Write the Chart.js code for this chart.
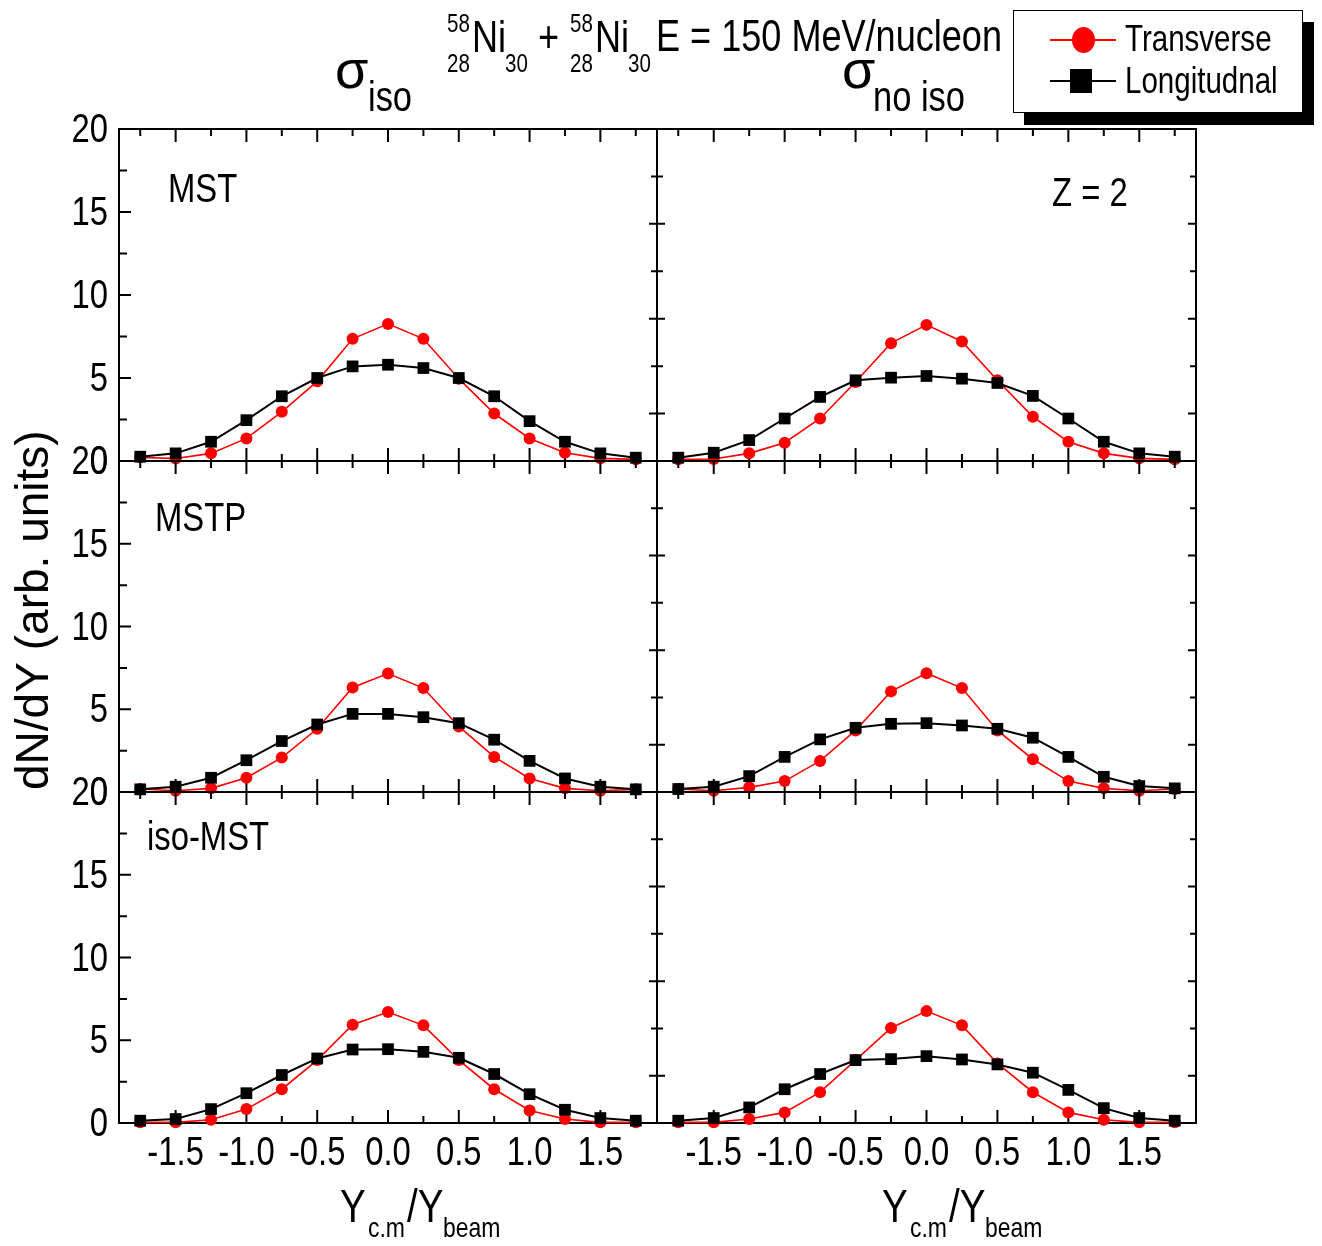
<!DOCTYPE html>
<html>
<head>
<meta charset="utf-8">
<script src="https://cdn.jsdelivr.net/npm/chart.js@4.4.1/dist/chart.umd.min.js"></script>
<style>
  html, body { margin: 0; padding: 0; background: #fff; }
  #wrap { position: relative; width: 1322px; height: 1246px; overflow: hidden; color: #000; }
  #wrap canvas { position: absolute; left: 0; top: 0; pointer-events: none; }
  .t { position: absolute; white-space: nowrap; line-height: 1; transform-origin: 0 0; }
  #legend { position: absolute; left: 1013px; top: 10px; width: 288px; height: 101px;
            border: 1px solid #000; background: #fff; box-shadow: 11px 12px 0 #000; }
  .lg-line { position: absolute; height: 2px; }
  .lg-mark { position: absolute; }
</style>
</head>
<body>
<div id="wrap">
  <canvas id="p0" width="1322" height="1246"></canvas>
  <canvas id="p1" width="1322" height="1246"></canvas>
  <canvas id="p2" width="1322" height="1246"></canvas>
  <canvas id="p3" width="1322" height="1246"></canvas>
  <canvas id="p4" width="1322" height="1246"></canvas>
  <canvas id="p5" width="1322" height="1246"></canvas>
  <div id="legend"></div>
</div>
<script>
// Rapidity bins (Y_c.m / Y_beam)
const rapidity = [-1.75, -1.5, -1.25, -1.0, -0.75, -0.5, -0.25, 0, 0.25, 0.5, 0.75, 1.0, 1.25, 1.5, 1.75];

// Tick values
const xTicks = [-1.5, -1.0, -0.5, 0, 0.5, 1.0, 1.5];
const xMinorTicks = [-1.75, -1.25, -0.75, -0.25, 0.25, 0.75, 1.25, 1.75];
const yTicks = [0, 5, 10, 15, 20];
const yMinorTicks = [2.5, 7.5, 12.5, 17.5];
const sideMajorTicks = [2.857, 8.571, 14.286];
const sideMinorTicks = [5.714, 11.429, 17.143];

// dN/dY for Z = 2 fragments, sigma_iso column
const mstIsoTrans   = [0.22, 0.15, 0.46, 1.36, 2.96, 4.80, 7.36, 8.26, 7.36, 4.96, 2.86, 1.36, 0.50, 0.16, 0.10];
const mstIsoLong    = [0.26, 0.46, 1.16, 2.46, 3.90, 5.00, 5.70, 5.80, 5.60, 5.00, 3.90, 2.40, 1.16, 0.46, 0.20];
const mstpIsoTrans  = [0.18, 0.08, 0.22, 0.86, 2.08, 3.82, 6.32, 7.16, 6.28, 3.96, 2.12, 0.82, 0.22, 0.08, 0.16];
const mstpIsoLong   = [0.16, 0.32, 0.86, 1.92, 3.08, 4.08, 4.72, 4.72, 4.52, 4.16, 3.16, 1.88, 0.82, 0.32, 0.16];
const isoMstIsoTrans = [0.04, 0.04, 0.20, 0.84, 2.04, 3.80, 5.94, 6.70, 5.90, 3.80, 2.04, 0.76, 0.24, 0.04, 0.04];
const isoMstIsoLong  = [0.14, 0.24, 0.84, 1.80, 2.90, 3.90, 4.44, 4.46, 4.30, 3.94, 2.96, 1.74, 0.80, 0.30, 0.14];

// sigma_no iso column
const mstNoIsoTrans   = [0.10, 0.12, 0.46, 1.10, 2.56, 4.76, 7.10, 8.20, 7.20, 4.86, 2.66, 1.16, 0.46, 0.16, 0.10];
const mstNoIsoLong    = [0.20, 0.50, 1.26, 2.56, 3.86, 4.86, 5.02, 5.12, 4.96, 4.70, 3.92, 2.56, 1.16, 0.46, 0.26];
const mstpNoIsoTrans  = [0.18, 0.08, 0.28, 0.66, 1.88, 3.72, 6.08, 7.18, 6.28, 3.72, 1.98, 0.66, 0.22, 0.08, 0.18];
const mstpNoIsoLong   = [0.18, 0.32, 0.96, 2.12, 3.18, 3.88, 4.12, 4.16, 4.02, 3.82, 3.28, 2.12, 0.92, 0.36, 0.22];
const isoMstNoIsoTrans = [0.04, 0.04, 0.24, 0.64, 1.86, 3.80, 5.74, 6.76, 5.90, 3.60, 1.86, 0.64, 0.20, 0.04, 0.04];
const isoMstNoIsoLong  = [0.14, 0.30, 0.94, 2.04, 2.96, 3.80, 3.86, 4.04, 3.84, 3.54, 3.04, 2.00, 0.90, 0.30, 0.14];

const seriesNames = ['Transverse', 'Longitudnal'];
const panelLabels = ['MST', 'MSTP', 'iso-MST'];

// ---- layout ----
const W = 1322, H = 1246;
const COL_L = [119, 657], COL_R = [657, 1196];
const ROW_T = [129, 461, 792], ROW_B = [461, 792, 1123];
const Y_AXIS_W = 70, X_AXIS_H = 60;
const SANS = "'Liberation Sans', Arial, 'DejaVu Sans', sans-serif";
const NARROW_X = 0.82;   // horizontal squeeze giving an Arial-Narrow look

// Frame with inward ticks on all four sides, plus condensed tick labels
const frameTicks = {
  id: 'frameTicks',
  beforeDatasetsDraw(chart, args, opts) {
    const { ctx, chartArea: a, scales: { x, y } } = chart;
    ctx.save();
    ctx.strokeStyle = '#000';
    ctx.lineWidth = 2;
    ctx.beginPath();
    const seg = (x1, y1, x2, y2) => { ctx.moveTo(x1, y1); ctx.lineTo(x2, y2); };
    const xt = (vals, len) => vals.forEach(v => {
      const px = x.getPixelForValue(v);
      seg(px, a.bottom, px, a.bottom - len);
      seg(px, a.top, px, a.top + len);
    });
    const yl = (vals, len) => vals.forEach(v => {
      const py = y.getPixelForValue(v);
      seg(a.left, py, a.left + len, py);
    });
    const yr = (vals, len) => vals.forEach(v => {
      const py = y.getPixelForValue(v);
      seg(a.right, py, a.right - len, py);
    });
    xt(xTicks, 13);
    xt(xMinorTicks, 7);
    if (opts.col === 0) {
      yl(yTicks, 12);
      yl(yMinorTicks, 8);
    } else {
      yl(sideMajorTicks, 8);
      yl(sideMinorTicks, 6);
    }
    yr(sideMajorTicks, 8);
    yr(sideMinorTicks, 6);
    ctx.stroke();
    ctx.strokeRect(a.left, a.top, a.width, a.height);

    // tick labels taken from the scales' own tick lists
    ctx.fillStyle = '#000';
    ctx.font = "40px " + SANS;
    ctx.textBaseline = 'alphabetic';
    const put = (label, px, py, align) => {
      ctx.save();
      ctx.translate(px, py);
      ctx.scale(NARROW_X, 1);
      ctx.textAlign = align;
      ctx.fillText(label, 0, 0);
      ctx.restore();
    };
    if (opts.showY) {
      y.ticks.forEach(t => put(t.label != null ? String(t.label) : String(t.value),
                               a.left - 11, y.getPixelForValue(t.value) + 13, 'right'));
    }
    if (opts.showX) {
      x.ticks.forEach(t => put(t.label != null ? String(t.label) : t.value.toFixed(1),
                               x.getPixelForValue(t.value), a.bottom + 42, 'center'));
    }
    ctx.restore();
  }
};

function makePanel(id, col, row, trans, longi) {
  const showY = col === 0, showX = row === 2;
  const pts = arr => rapidity.map((v, i) => ({ x: v, y: arr[i] }));
  new Chart(document.getElementById(id), {
    type: 'line',
    data: {
      datasets: [
        { label: seriesNames[0], data: pts(trans), borderColor: '#ff0000', backgroundColor: '#ff0000',
          borderWidth: 1.6, pointStyle: 'circle', pointRadius: 6, pointBorderWidth: 0,
          order: 1, clip: false, tension: 0 },
        { label: seriesNames[1], data: pts(longi), borderColor: '#000', backgroundColor: '#000',
          borderWidth: 2, pointStyle: 'rect', pointRadius: 8.3, pointBorderWidth: 0,
          order: 0, clip: false, tension: 0 }
      ]
    },
    options: {
      responsive: false, animation: false, devicePixelRatio: 1,
      layout: { padding: {
        left: COL_L[col] - (showY ? Y_AXIS_W : 0),
        right: W - COL_R[col],
        top: ROW_T[row],
        bottom: H - ROW_B[row] - (showX ? X_AXIS_H : 0)
      } },
      plugins: { legend: { display: false }, tooltip: { enabled: false },
                 frameTicks: { col, showX, showY } },
      scales: {
        x: {
          type: 'linear', min: -1.9, max: 1.9,
          grid: { display: false }, border: { display: false },
          afterBuildTicks: s => { s.ticks = xTicks.map(v => ({ value: v })); },
          afterFit: s => { s.height = showX ? X_AXIS_H : 0; },
          ticks: { display: false, autoSkip: false, callback: v => v.toFixed(1) }
        },
        y: {
          type: 'linear', min: 0, max: 20,
          grid: { display: false }, border: { display: false },
          afterBuildTicks: s => { s.ticks = yTicks.map(v => ({ value: v })); },
          afterFit: s => { s.width = showY ? Y_AXIS_W : 0; },
          ticks: { display: false, autoSkip: false, callback: v => String(v) }
        }
      }
    },
    plugins: [frameTicks]
  });
}

makePanel('p0', 0, 0, mstIsoTrans, mstIsoLong);
makePanel('p1', 1, 0, mstNoIsoTrans, mstNoIsoLong);
makePanel('p2', 0, 1, mstpIsoTrans, mstpIsoLong);
makePanel('p3', 1, 1, mstpNoIsoTrans, mstpNoIsoLong);
makePanel('p4', 0, 2, isoMstIsoTrans, isoMstIsoLong);
makePanel('p5', 1, 2, isoMstNoIsoTrans, isoMstNoIsoLong);

// ---- text ----
const wrap = document.getElementById('wrap');
function txt(str, left, baseline, size, squeeze) {
  const sx = squeeze == null ? NARROW_X : squeeze;
  const el = document.createElement('div');
  el.className = 't';
  el.textContent = str;
  el.style.left = left + 'px';
  el.style.top = (baseline - 0.846 * size) + 'px';
  el.style.fontSize = size + 'px';
  el.style.fontFamily = SANS;
  if (sx !== 1) el.style.transform = `scaleX(${sx})`;
  wrap.appendChild(el);
  return el;
}

// reaction label
function nucleus(left) {
  txt('58', left, 32, 25);
  txt('28', left, 72, 25);
  txt('Ni', left + 25, 52, 44);
  txt('30', left + 58, 72, 25);
}
nucleus(447);
txt('+', 538, 52, 44);
nucleus(570);
txt('E = 150 MeV/nucleon', 656, 51, 44);

// column headings
txt('\u03C3', 335, 88, 54, 1);
txt('iso', 368, 112, 42);
txt('\u03C3', 842, 88, 54, 1);
txt('no iso', 873, 112, 42);

// panel labels
txt(panelLabels[0], 168, 202, 40);
txt(panelLabels[1], 155, 531, 40);
txt(panelLabels[2], 147, 850, 40);
txt('Z = 2', 1052, 206, 40);

// vertical axis title
const yt = txt('dN/dY (arb. units)', 0, 0, 46, 1);
yt.style.top = '0px';
yt.style.left = '0px';
(function () {
  const w = yt.offsetWidth, h = yt.offsetHeight;
  yt.style.transform = `translate(${32 - h / 2}px, ${610 + w / 2}px) rotate(-90deg)`;
})();

// horizontal axis titles
function xTitle(left) {
  txt('Y', left, 1222, 47);
  txt('c.m', left + 28, 1238, 28);
  txt('/Y', left + 67, 1222, 47);
  txt('beam', left + 103, 1238, 28);
}
xTitle(340);
xTitle(882);

// legend
const lg = document.getElementById('legend');
function lgEntry(y, color, shape) {
  const line = document.createElement('div');
  line.className = 'lg-line';
  Object.assign(line.style, { left: '36px', top: (y - 1) + 'px', width: '66px', background: color });
  lg.appendChild(line);
  const m = document.createElement('div');
  m.className = 'lg-mark';
  if (shape === 'circle') {
    Object.assign(m.style, { left: '58px', top: (y - 13) + 'px', width: '23px', height: '26px',
      borderRadius: '50%', background: color });
  } else {
    Object.assign(m.style, { left: '56px', top: (y - 12) + 'px', width: '22px', height: '24px',
      background: color });
  }
  lg.appendChild(m);
}
lgEntry(29, '#ff0000', 'circle');
lgEntry(70, '#000', 'rect');
txt(seriesNames[0], 1125, 51, 36);
txt(seriesNames[1], 1125, 93, 36);
</script>
</body>
</html>
